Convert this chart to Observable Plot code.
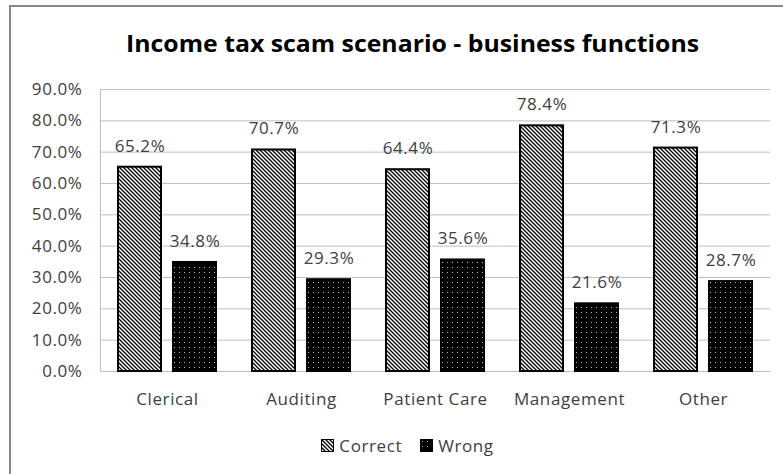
<!DOCTYPE html>
<html><head><meta charset="utf-8">
<script src="https://cdn.jsdelivr.net/npm/d3@7"></script>
<script src="https://cdn.jsdelivr.net/npm/@observablehq/plot@0.6"></script>
<style>
html,body{margin:0;padding:0;width:783px;height:474px;overflow:hidden;background:#fff;font-family:"Open Sans",sans-serif;}
#box{position:absolute;left:9px;top:5px;width:820px;height:520px;border:2px solid #888;box-sizing:border-box;}
#title{position:absolute;left:0;top:28px;width:826px;text-align:center;font-weight:bold;font-size:23px;line-height:30px;color:#000;white-space:nowrap;}
#title span{display:inline-block;transform-origin:center;}
#chart{position:absolute;left:0;top:70px;}
#chart svg text{letter-spacing:0.6px;}
#legend{position:absolute;left:0;width:815px;top:434px;display:flex;justify-content:center;align-items:center;font-size:17px;letter-spacing:0.6px;color:#404040;}
#legend .item{display:flex;align-items:center;margin:0 9px;}
#legend svg{margin-right:5px;}
</style></head>
<body>
<svg width="0" height="0" style="position:absolute">
<defs>
<pattern id="stripes" patternUnits="userSpaceOnUse" width="4" height="4">
<rect width="4" height="4" fill="#fff"/>
<path d="M-1,-1 L5,5 M-1,3 L1,5 M3,-1 L5,1" stroke="#000" stroke-width="1.3"/>
</pattern>
<pattern id="dots" patternUnits="userSpaceOnUse" width="5" height="5">
<rect width="5" height="5" fill="#000"/>
<rect x="2" y="2" width="1" height="1" fill="#bbb"/>
</pattern>
</defs>
</svg>
<div id="box"></div>
<div id="title"><span>Income tax scam scenario - business  functions</span></div>
<div id="chart"></div>
<div id="legend"></div>
<script>
const categories = ["Clerical", "Auditing", "Patient Care", "Management", "Other"];
const seriesNames = ["Correct", "Wrong"];
const correctValues = [65.2, 70.7, 64.4, 78.4, 71.3];
const wrongValues = [34.8, 29.3, 35.6, 21.6, 28.7];
const yTicks = [0, 10, 20, 30, 40, 50, 60, 70, 80, 90];
const seriesFills = ["url(#stripes)", "url(#dots)"];

const data = categories.flatMap((c, i) => [
  {category: c, series: seriesNames[0], value: correctValues[i]},
  {category: c, series: seriesNames[1], value: wrongValues[i]}
]);
const pct = d => d.toFixed(1) + "%";

function build(useSuper) {
  const marks = [
    Plot.gridY(yTicks, {stroke: "#bfbfbf", strokeOpacity: 1}),
    Plot.ruleY([0], {stroke: "#bfbfbf"}),
    Plot.barY(data, {fx: "category", x: "series", y: "value", fill: "series", stroke: "#000", strokeWidth: 2}),
    Plot.text(data, {fx: "category", x: "series", y: "value", text: d => pct(d.value), dy: -21, lineAnchor: "middle", fill: "#404040"})
  ];
  if (useSuper) marks.push(Plot.frame({anchor: "left", facet: "super", stroke: "#bfbfbf"}));
  return Plot.plot({
    width: 783, height: 350,
    marginTop: 19, marginBottom: 49, marginLeft: 98, marginRight: 11,
    style: {fontFamily: "Open Sans, sans-serif", fontSize: "17px", color: "#404040", background: "transparent", overflow: "visible"},
    fx: {domain: categories, padding: 0, label: null, tickSize: 0, tickPadding: 21, axis: "bottom"},
    x: {domain: seriesNames, paddingInner: 0.214, paddingOuter: 0.31, axis: null},
    y: {domain: [0, 90], ticks: yTicks, tickFormat: pct, label: null, tickSize: 0, tickPadding: 18},
    color: {domain: seriesNames, range: seriesFills},
    marks
  });
}
let chart;
try { chart = build(true); } catch (e) { chart = build(false); }
document.getElementById("chart").appendChild(chart);

// legend
const legend = d3.select("#legend");
seriesNames.forEach((s, i) => {
  const item = legend.append("div").attr("class", "item");
  const sv = item.append("svg").attr("width", 13).attr("height", 13);
  sv.append("rect").attr("x", 0.5).attr("y", 0.5).attr("width", 12).attr("height", 12)
    .attr("fill", seriesFills[i]).attr("stroke", "#000").attr("stroke-width", 1);
  item.append("span").text(s);
});

// fit title width
const sp = document.querySelector("#title span");
const w = sp.getBoundingClientRect().width;
sp.style.transform = `scaleX(${573 / w})`;
</script>
</body></html>
